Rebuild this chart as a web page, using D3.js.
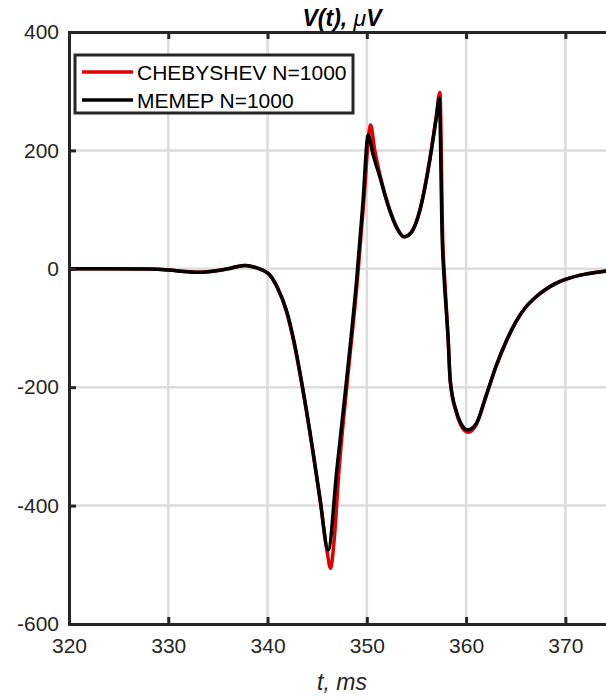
<!DOCTYPE html>
<html>
<head>
<meta charset="utf-8">
<script src="https://cdn.jsdelivr.net/npm/d3@7"></script>
<style>
  body { margin: 0; background: #fff; }
  svg { display: block; font-family: "Liberation Sans", Arial, sans-serif; }
</style>
</head>
<body>
<div id="chart"></div>
<script>
'use strict';

// MEMEP N=1000 (black)
var tMemep = [320, 324, 328, 330, 332, 333, 334, 335, 336, 337, 337.7, 338.4, 339, 339.6, 340.2, 341, 341.9, 342.7, 343.4, 344.5, 345.3, 346.1,
  347, 347.96, 348.97, 349.6, 350.14,
  350.6, 351.3, 352.3, 353, 353.74, 354.5, 355.35, 356.35, 357, 357.3,
  357.6, 357.8, 358.2, 358.4, 359, 359.5, 360.15, 361, 362, 363, 364.1, 365, 366, 367, 368, 369, 370, 372, 374, 376]
var vMemep = [0, 0, -0.5, -2, -5, -6, -5, -3, 0, 4, 5.5, 4, 1, -3, -10, -32, -70, -125, -188, -300, -390, -475,
  -336, -188, -19, 110, 226,
  195, 156, 99, 70, 54, 62, 99, 184, 255, 288,
  48, -19, -120, -188, -240, -262, -272, -262, -215, -165, -120, -90, -65, -48, -35, -25, -18, -9, -4, -1]

// CHEBYSHEV N=1000 (red)
var tCheb = [320, 324, 328, 330, 332, 333, 334, 335, 336, 337, 337.7, 338.4, 339, 339.6, 340.2, 341, 341.9, 342.7, 343.4, 344.5, 345.3, 346.0, 346.35,
  346.7, 347.2, 348.05, 349.05, 349.7, 350.38,
  350.8, 351.3, 352.3, 353, 353.74, 354.5, 355.35, 356.35, 357, 357.36,
  357.65, 357.85, 358.2, 358.4, 359, 359.5, 360.2, 361, 362, 363, 364.1, 365, 366, 367, 368, 369, 370, 372, 374, 376]
var vCheb = [0, 0, -0.5, -2, -5, -6, -5, -3, 0, 4, 5.5, 4, 1, -3, -10, -32, -72, -128, -190, -302, -392, -478, -506,
  -460, -340, -188, -19, 115, 243,
  200, 160, 100, 70, 54, 62, 100, 186, 258, 298,
  48, -19, -122, -190, -242, -265, -276, -264, -216, -166, -121, -90, -65, -48, -35, -25, -18, -9, -4, -1]

var xTicks = [320, 330, 340, 350, 360, 370]
var yTicks = [-600, -400, -200, 0, 200, 400]

var width = 606, height = 699
var margin = {top: 32, left: 69}
var plotW = 546, plotH = 592

var svg = d3.select('#chart').append('svg')
  .attr('width', width)
  .attr('height', height)

var x = d3.scaleLinear().domain([320, 375]).range([margin.left, margin.left + plotW])
var y = d3.scaleLinear().domain([-600, 400]).range([margin.top + plotH, margin.top])

// grid
svg.append('g').selectAll('line.gx')
  .data(xTicks.slice(1))
  .enter().append('line')
    .attr('x1', function(d){ return x(d) }).attr('x2', function(d){ return x(d) })
    .attr('y1', y(400)).attr('y2', y(-600))
    .style('stroke', '#dcdcdc').style('stroke-width', 2.5)

svg.append('g').selectAll('line.gy')
  .data(yTicks.slice(1, -1))
  .enter().append('line')
    .attr('x1', x(320)).attr('x2', x(375))
    .attr('y1', function(d){ return y(d) }).attr('y2', function(d){ return y(d) })
    .style('stroke', '#dcdcdc').style('stroke-width', 2.5)

var line = d3.line()
  .curve(d3.curveMonotoneX)
  .x(function(d){ return x(d[0]) })
  .y(function(d){ return y(d[1]) })

svg.append('clipPath').attr('id', 'clip').append('rect')
  .attr('x', x(320)).attr('y', y(400)).attr('width', plotW).attr('height', plotH)

var curves = [
  {name: 'CHEBYSHEV N=1000', color: '#e00000', values: d3.zip(tCheb, vCheb)},
  {name: 'MEMEP N=1000', color: '#000000', values: d3.zip(tMemep, vMemep)}
]

svg.append('g').attr('clip-path', 'url(#clip)')
  .selectAll('path')
  .data(curves)
  .enter().append('path')
    .attr('d', function(d){ return line(d.values) })
    .style('fill', 'none')
    .style('stroke', function(d){ return d.color })
    .style('stroke-width', 3.5)
    .style('stroke-linejoin', 'round')

// axes (MATLAB box style, ticks inward, plain hyphen minus)
var axisColor = '#262626'
var fmt = function(d){ return String(d) }
var xAxis = d3.axisBottom(x).tickValues(xTicks).tickSize(-7).tickPadding(14).tickFormat(fmt)
var yAxis = d3.axisLeft(y).tickValues(yTicks).tickSize(-7).tickPadding(10).tickFormat(fmt)

var gx = svg.append('g')
  .attr('transform', 'translate(0,' + y(-600) + ')')
  .call(xAxis)
var gy = svg.append('g')
  .attr('transform', 'translate(' + x(320) + ',0)')
  .call(yAxis)
var gxTop = svg.append('g')
  .attr('transform', 'translate(0,' + y(400) + ')')
  .call(d3.axisTop(x).tickValues(xTicks).tickSize(-7).tickFormat(''))

;[gx, gy, gxTop].forEach(function(g){
  g.select('.domain').style('stroke', axisColor).style('stroke-width', 3)
  g.selectAll('.tick line').style('stroke', axisColor).style('stroke-width', 3)
  g.selectAll('.tick text')
    .style('fill', '#262626')
    .style('font-size', '21px')
    .style('font-family', '"Liberation Sans", Arial, sans-serif')
})
gx.selectAll('.tick text').attr('dy', '0.71em')

// title and axis label
var title = svg.append('text')
  .attr('x', (x(320) + x(375)) / 2)
  .attr('y', 26)
  .attr('text-anchor', 'middle')
  .style('font-size', '23px')
  .style('font-weight', 'bold')
  .style('font-style', 'italic')
  .style('fill', '#000')
title.append('tspan').text('V(t), ')
title.append('tspan').style('font-weight', 'normal').text('\u03bc')
title.append('tspan').text('V')

svg.append('text')
  .attr('x', (x(320) + x(375)) / 2)
  .attr('y', 690)
  .attr('text-anchor', 'middle')
  .style('font-size', '23px')
  .style('font-style', 'italic')
  .style('fill', '#262626')
  .text('t, ms')

// legend
var lg = svg.append('g').attr('transform', 'translate(75,55)')
lg.append('rect')
  .attr('width', 278).attr('height', 58)
  .style('fill', '#fff')
  .style('stroke', axisColor)
  .style('stroke-width', 3)

var item = lg.selectAll('g.item')
  .data(curves)
  .enter().append('g')
    .attr('transform', function(d, i){ return 'translate(0,' + (17 + i * 28) + ')' })

item.append('line')
  .attr('x1', 7).attr('x2', 58)
  .style('stroke', function(d){ return d.color })
  .style('stroke-width', 3.5)

item.append('text')
  .attr('x', 62)
  .attr('dy', '0.36em')
  .style('font-size', '21px')
  .style('fill', '#000')
  .text(function(d){ return d.name })
</script>
</body>
</html>
